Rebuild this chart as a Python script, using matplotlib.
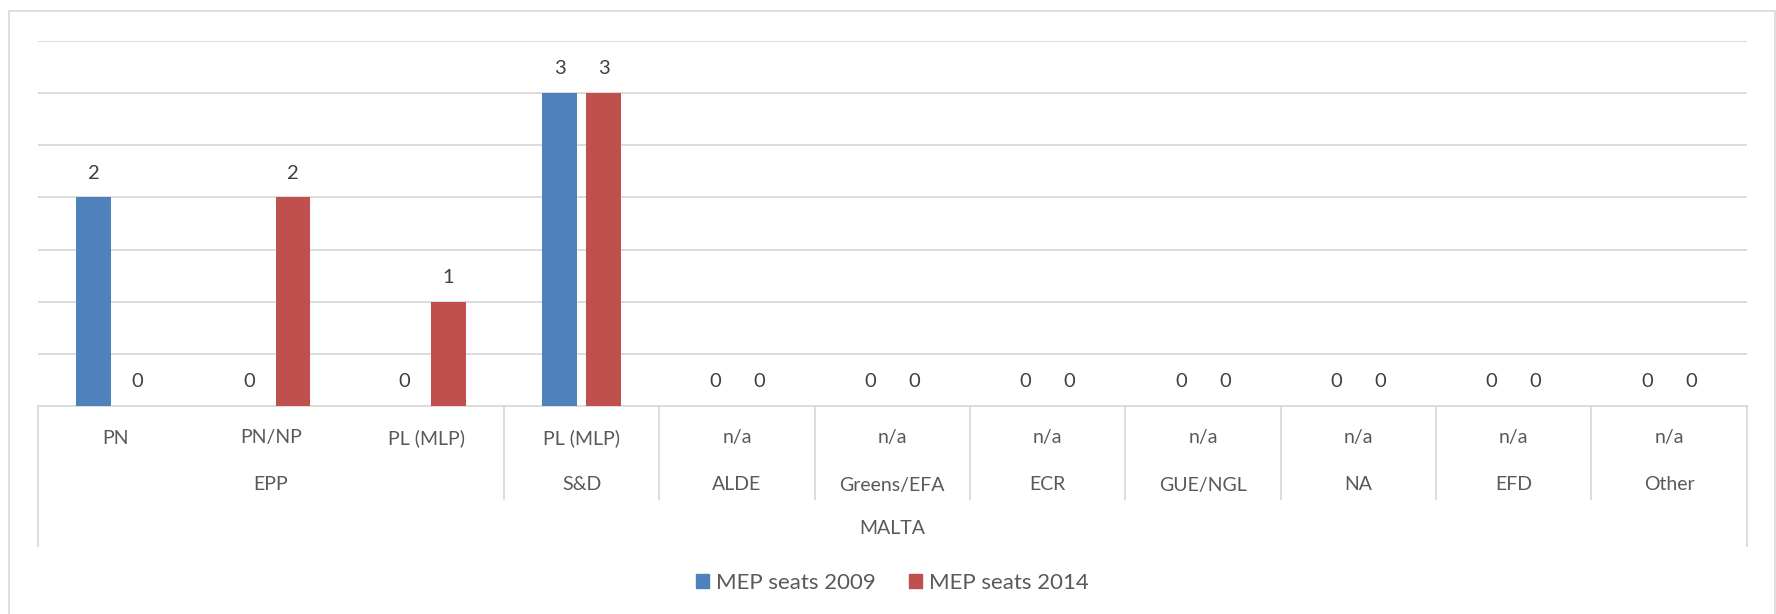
import matplotlib.pyplot as plt
from matplotlib.patches import Patch, Rectangle

# categories (inner level), party groups (middle level) and country (outer level)
parties = ['PN', 'PN/NP', 'PL (MLP)', 'PL (MLP)', 'n/a', 'n/a', 'n/a', 'n/a', 'n/a', 'n/a', 'n/a']
groups = ['EPP', 'S&D', 'ALDE', 'Greens/EFA', 'ECR', 'GUE/NGL', 'NA', 'EFD', 'Other']
group_sizes = [3, 1, 1, 1, 1, 1, 1, 1, 1]
country = 'MALTA'

seats_2009 = [2, 0, 0, 3, 0, 0, 0, 0, 0, 0, 0]
seats_2014 = [0, 2, 1, 3, 0, 0, 0, 0, 0, 0, 0]

blue = '#4F81BD'
red = '#C0504D'
grid_col = '#D9D9D9'
txt_col = '#595959'
lbl_col = '#404040'

plt.rcParams['font.family'] = ['Lato', 'DejaVu Sans']

W, H = 1776, 614
fig = plt.figure(figsize=(W / 100, H / 100), dpi=100)
ax = fig.add_axes([38 / W, 1 - 406 / H, (1746.7 - 38) / W, (406 - 41) / H])

x = list(range(len(parties)))
bw = 0.223
off = 0.1415
xb = [i - off for i in x]
xr = [i + off for i in x]
ax.bar(xb, seats_2009, width=bw, color=blue, label='MEP seats 2009', zorder=3)
ax.bar(xr, seats_2014, width=bw, color=red, label='MEP seats 2014', zorder=3)

# data labels
for xs, vals in ((xb, seats_2009), (xr, seats_2014)):
    for xi, v in zip(xs, vals):
        ax.annotate(str(v), (xi, v), xytext=(0, 17.5), textcoords='offset points',
                    ha='center', va='center', fontsize=14.5, color=lbl_col)

ax.set_xlim(-0.5, len(parties) - 0.5)
ax.set_ylim(0, 3.5)
ax.set_yticks([0.5 * k for k in range(1, 8)])
ax.yaxis.grid(True, color=grid_col, linewidth=1.3)
ax.set_axisbelow(True)
ax.tick_params(left=False, labelleft=False, bottom=False, labelbottom=False)
for s in ('top', 'left', 'right'):
    ax.spines[s].set_visible(False)
ax.spines['bottom'].set_color(grid_col)
ax.spines['bottom'].set_linewidth(1.3)

# multi-level category axis
trans = ax.get_xaxis_transform()
ah = 406 - 41


def ay(py):
    return (406 - py) / ah


for i, p in enumerate(parties):
    ax.text(i, ay(438), p, transform=trans, ha='center', va='center',
            fontsize=14, color=txt_col)

start = 0
bounds = []
for g, n in zip(groups, group_sizes):
    ax.text(start + (n - 1) / 2, ay(485), g, transform=trans, ha='center', va='center',
            fontsize=14, color=txt_col)
    start += n
    bounds.append(start - 0.5)

ax.text((len(parties) - 1) / 2, ay(529), country, transform=trans, ha='center', va='center',
        fontsize=14, color=txt_col)

for b in bounds[:-1]:
    ax.plot([b, b], [0, ay(499)], transform=trans, color=grid_col, lw=1.3, clip_on=False)
for b in (-0.5, len(parties) - 0.5):
    ax.plot([b, b], [0, ay(546)], transform=trans, color=grid_col, lw=1.3, clip_on=False)

handles = [Patch(color=blue, label='MEP seats 2009'), Patch(color=red, label='MEP seats 2014')]
ax.legend(handles=handles, loc='center', bbox_to_anchor=(0.5, ay(583)), ncol=2, frameon=False,
          fontsize=16, labelcolor=txt_col, handlelength=0.6, handleheight=0.6,
          handletextpad=0.3, columnspacing=1.5)

# chart area border
fig.patches.append(Rectangle((8.7 / W, -0.05), (1775 - 8.7) / W, 1.05 - 11.3 / H,
                             transform=fig.transFigure, fill=False, edgecolor=grid_col, lw=1.2))

fig.savefig('out.png', dpi=100)
